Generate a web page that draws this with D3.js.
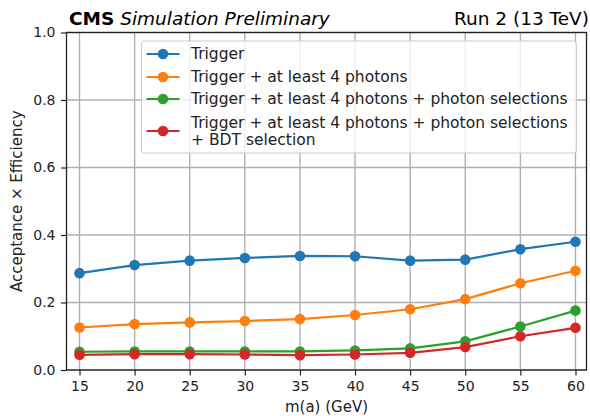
<!DOCTYPE html>
<html>
<head>
<meta charset="utf-8">
<script src="https://cdn.jsdelivr.net/npm/d3@7"></script>
<style>
  html, body { margin: 0; padding: 0; background: #fff; }
  svg { display: block; font-family: "DejaVu Sans", sans-serif; }
</style>
</head>
<body>
<svg id="chart" width="590" height="416"></svg>
<script>
// Signal mass points m(a) in GeV
const masses = [15, 20, 25, 30, 35, 40, 45, 50, 55, 60];

// Acceptance x efficiency after each cumulative selection step
const trigger        = [0.287, 0.311, 0.324, 0.332, 0.338, 0.337, 0.324, 0.327, 0.358, 0.380];
const fourPhotons    = [0.126, 0.136, 0.141, 0.145, 0.151, 0.163, 0.180, 0.210, 0.257, 0.294];
const photonSel      = [0.054, 0.055, 0.055, 0.055, 0.055, 0.058, 0.064, 0.085, 0.129, 0.176];
const bdtSel         = [0.045, 0.047, 0.047, 0.046, 0.044, 0.046, 0.051, 0.068, 0.100, 0.125];

const seriesNames = [
  ["Trigger"],
  ["Trigger + at least 4 photons"],
  ["Trigger + at least 4 photons + photon selections"],
  ["Trigger + at least 4 photons + photon selections", "+ BDT selection"]
];
const seriesColors = ["#1f77b4", "#ff7f0e", "#2ca02c", "#d62728"];
const seriesValues = [trigger, fourPhotons, photonSel, bdtSel];

const yTicks = [0.0, 0.2, 0.4, 0.6, 0.8, 1.0];

const svg = d3.select("#chart");
const plot = { left: 66.5, right: 586.5, top: 32.5, bottom: 370 };

const x = d3.scaleLinear().domain([13.82, 61.0]).range([plot.left, plot.right]);
const y = d3.scaleLinear().domain([0, 1]).range([plot.bottom, plot.top]);

// grid
const grid = svg.append("g").attr("stroke", "#b0b0b0").attr("stroke-width", 1.4);
grid.selectAll("line.vx").data(masses).join("line")
  .attr("x1", d => x(d)).attr("x2", d => x(d))
  .attr("y1", plot.top).attr("y2", plot.bottom);
grid.selectAll("line.hy").data(yTicks).join("line")
  .attr("x1", plot.left).attr("x2", plot.right)
  .attr("y1", d => y(d)).attr("y2", d => y(d));

// series
const line = d3.line().x((d, i) => x(masses[i])).y(d => y(d));
seriesValues.forEach((vals, k) => {
  const g = svg.append("g");
  g.append("path").datum(vals).attr("d", line)
    .attr("fill", "none").attr("stroke", seriesColors[k]).attr("stroke-width", 2.2);
  g.selectAll("circle").data(vals).join("circle")
    .attr("cx", (d, i) => x(masses[i])).attr("cy", d => y(d))
    .attr("r", 5.3).attr("fill", seriesColors[k]);
});

// axes
const xAxis = d3.axisBottom(x).tickValues(masses).tickSize(5.5).tickPadding(5.5).tickFormat(d3.format("d"));
const yAxis = d3.axisLeft(y).tickValues(yTicks).tickSize(5.5).tickPadding(5.5).tickFormat(d3.format(".1f"));
const gx = svg.append("g").attr("transform", `translate(0,${plot.bottom})`).call(xAxis);
const gy = svg.append("g").attr("transform", `translate(${plot.left},0)`).call(yAxis);
[gx, gy].forEach(g => {
  g.select(".domain").remove();
  g.selectAll(".tick line").attr("stroke", "#222").attr("stroke-width", 1.2);
  g.selectAll(".tick text").attr("fill", "#222").attr("font-size", 14)
    .attr("font-family", "DejaVu Sans");
});

// frame
svg.append("rect")
  .attr("x", plot.left).attr("y", plot.top)
  .attr("width", plot.right - plot.left).attr("height", plot.bottom - plot.top)
  .attr("fill", "none").attr("stroke", "#222").attr("stroke-width", 1.3);

// legend
const lg = svg.append("g");
lg.append("rect").attr("x", 141.5).attr("y", 41).attr("width", 435).attr("height", 112)
  .attr("rx", 3).attr("fill", "#fff").attr("fill-opacity", 0.8)
  .attr("stroke", "#cccccc").attr("stroke-width", 1);
const rowY = [54, 77, 99, 131];
seriesNames.forEach((lines, k) => {
  const cy = rowY[k];
  lg.append("line").attr("x1", 146.5).attr("x2", 179.5).attr("y1", cy).attr("y2", cy)
    .attr("stroke", seriesColors[k]).attr("stroke-width", 2.2);
  lg.append("circle").attr("cx", 163).attr("cy", cy).attr("r", 5.3).attr("fill", seriesColors[k]);
  const t = lg.append("text").attr("x", 191).attr("font-size", 15.5).attr("fill", "#222");
  const y0 = cy - (lines.length - 1) * 8.4;
  lines.forEach((s, j) => {
    t.append("tspan").attr("x", 191).attr("y", y0 + j * 16.8).attr("dy", "0.35em").text(s);
  });
});

// axis labels
svg.append("text").attr("x", (plot.left + plot.right) / 2).attr("y", 411.5)
  .attr("text-anchor", "middle").attr("font-size", 15).attr("fill", "#222").text("m(a) (GeV)");
svg.append("text")
  .attr("transform", `translate(22,${(plot.top + plot.bottom) / 2}) rotate(-90)`)
  .attr("text-anchor", "middle").attr("font-size", 15).attr("fill", "#222")
  .text("Acceptance × Efficiency");

// header
const hdr = svg.append("text").attr("x", 69).attr("y", 25).attr("font-size", 18.5).attr("fill", "#000");
hdr.append("tspan").attr("font-weight", "bold").text("CMS");
hdr.append("tspan").attr("font-style", "italic").text(" Simulation Preliminary");
svg.append("text").attr("x", 589).attr("y", 25).attr("text-anchor", "end")
  .attr("font-size", 18.5).attr("fill", "#000").text("Run 2 (13 TeV)");
</script>
</body>
</html>
